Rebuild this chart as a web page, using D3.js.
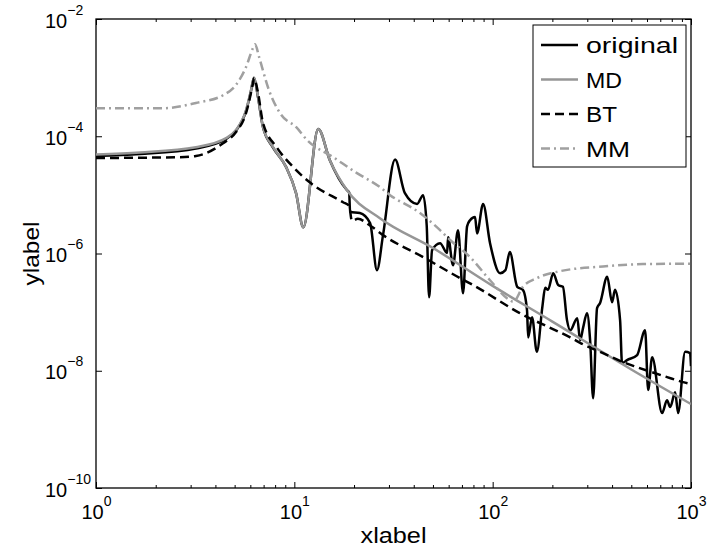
<!DOCTYPE html>
<html>
<head>
<meta charset="utf-8">
<script src="https://cdn.jsdelivr.net/npm/d3@7"></script>
<style>
  body { margin: 0; background: #fff; }
  text { font-family: "Liberation Sans", Arial, Helvetica, sans-serif; }
</style>
</head>
<body>
<svg id="chart" width="709" height="554"></svg>
<script>

// values (frequency, magnitude)
var freqOriginal = [1, 1.67, 3.19, 4.53, 5.08, 5.71, 6.05, 6.26, 6.56, 6.95,
	7.81, 9.08, 10.2, 11.1, 13.2, 15.1, 18.4, 18.9, 19.1, 21.4,
	24.1, 26.1, 28.0, 32.2, 36.1, 41.6, 44.6, 46.5, 47.8, 49.5,
	54.3, 58.9, 59.6, 63.1, 66.9, 70.9, 74.3, 76.9, 81.5, 83.4,
	89.5, 97.0, 109, 116, 122, 133, 142, 149, 151, 158,
	167, 178, 184, 190, 202, 214, 226, 237, 246, 267,
	276, 286, 299, 310, 321, 336, 348, 378, 400, 414,
	439, 449, 476, 535, 587, 608, 637, 715, 757, 785,
	832, 861, 934, 989, 1000];
var magOriginal = [4.6e-5, 5.0e-5, 6.2e-5, 9.0e-5, 1.25e-4, 2.7e-4, 6.0e-4, 1.0e-3, 4.6e-4, 1.42e-4,
	6.4e-5, 3.0e-5, 1.07e-5, 2.8e-6, 1.33e-4, 3.9e-5, 1.21e-5, 1.1e-5, 5.1e-6, 4.9e-6,
	3.3e-6, 5.2e-7, 2.06e-6, 4.0e-5, 1.07e-5, 7.0e-6, 9.9e-6, 3.0e-6, 1.8e-7, 1.14e-6,
	1.5e-6, 1.02e-6, 1.9e-6, 6.3e-7, 2.5e-6, 2.1e-7, 2.9e-6, 3.7e-6, 4.2e-6, 2.2e-6,
	7.0e-6, 1.5e-6, 4.6e-7, 5.2e-7, 1.06e-6, 2.7e-7, 2.4e-7, 1.08e-7, 3.7e-8, 8.2e-8,
	2.1e-8, 1.22e-7, 2.6e-7, 2.4e-7, 4.6e-7, 2.9e-7, 2.7e-7, 7.3e-8, 4.9e-8, 7.9e-8,
	3.3e-8, 5.5e-8, 9.6e-8, 3.3e-8, 3.4e-9, 1.17e-7, 1.43e-7, 4.0e-7, 1.48e-7, 2.4e-7,
	7.3e-8, 1.35e-8, 1.52e-8, 1.85e-8, 4.9e-8, 4.7e-9, 1.7e-8, 1.9e-9, 3.15e-9, 2.4e-9,
	4.3e-9, 1.9e-9, 2.1e-8, 2.0e-8, 1.2e-8];

var freqMD = [1, 1.67, 3.19, 4.53, 5.08, 5.71, 6.05, 6.26, 6.56, 6.95,
	7.81, 9.08, 10.2, 11.1, 13.2, 15.1, 18.4, 27.0, 50, 100,
	200, 500, 1000];
var magMD = [4.9e-5, 5.3e-5, 6.5e-5, 9.3e-5, 1.28e-4, 2.8e-4, 6.1e-4, 1.0e-3, 4.7e-4, 1.44e-4,
	6.5e-5, 3.0e-5, 1.07e-5, 2.8e-6, 1.33e-4, 3.9e-5, 1.21e-5, 4.0e-6, 1.24e-6, 2.8e-7,
	6.9e-8, 1.05e-8, 2.7e-9];

var freqBT = [1, 2.65, 3.19, 4.37, 5.08, 5.71, 6.19, 6.26, 6.56, 6.95,
	8.14, 9.85, 12.0, 17.6, 18.9, 19.5, 20.9, 24.1, 28.0, 44.6,
	68.5, 79.6, 137, 246, 276, 360, 455, 535, 757, 912,
	1000];
var magBT = [4.25e-5, 4.4e-5, 4.6e-5, 7.6e-5, 1.18e-4, 2.5e-4, 8.1e-4, 9.8e-4, 5.5e-4, 1.68e-4,
	6.5e-5, 3.0e-5, 1.62e-5, 7.5e-6, 6.5e-6, 3.6e-6, 3.9e-6, 3.0e-6, 2.06e-6, 8.7e-7,
	3.8e-7, 2.9e-7, 9.6e-8, 3.7e-8, 3.0e-8, 2.0e-8, 1.4e-8, 1.15e-8, 7.8e-9, 6.4e-9,
	5.9e-9];

var freqMM = [1, 2.18, 3.19, 4.37, 5.08, 5.71, 6.19, 6.34, 6.64, 7.45,
	8.6, 10.2, 11.6, 15.7, 20.7, 27.0, 30.4, 43.0, 54.3, 61.0,
	76.9, 97.0, 122, 127, 142, 167, 219, 360, 573, 1000];
var magMM = [3.0e-4, 3.0e-4, 3.7e-4, 5.0e-4, 7.5e-4, 1.52e-3, 3.2e-3, 3.7e-3, 2.25e-3, 6.1e-4,
	2.3e-4, 1.44e-4, 8.6e-5, 4.4e-5, 2.35e-5, 1.36e-5, 9.9e-6, 4.9e-6, 2.5e-6, 1.7e-6,
	8.7e-7, 3.5e-7, 1.6e-7, 1.5e-7, 2.7e-7, 3.8e-7, 5.0e-7, 6.0e-7, 6.6e-7, 6.7e-7];

var seriesNames = ["original", "MD", "BT", "MM"];
var xTicks = [1, 10, 100, 1000];
var yTicks = [1e-10, 1e-8, 1e-6, 1e-4, 1e-2];
var xLabelText = "xlabel";
var yLabelText = "ylabel";


var svg = d3.select("#chart");
var box = { left: 96, top: 19, right: 691, bottom: 488 };

var x = d3.scaleLog().domain([1, 1000]).range([box.left, box.right]);
var y = d3.scaleLog().domain([1e-10, 1e-2]).range([box.bottom, box.top]);

// minor ticks 2..9 in each decade
var xMinor = [];
for (var d = 0; d < xTicks.length - 1; d++) {
	for (var k = 2; k < 10; k++) xMinor.push(xTicks[d] * k);
}

function powLabel(sel) {
	sel.each(function(v) {
		var e = Math.round(Math.log10(v));
		var t = d3.select(this).text(null);
		t.append("tspan").text("10");
		t.append("tspan").attr("dy", -13).attr("font-size", 14)
			.text(e < 0 ? "\u2212" + (-e) : e);
	});
}

function styleAxis(g) {
	g.attr("font-size", 20).attr("font-family", null);
	g.select(".domain").remove();
	g.selectAll(".tick line").attr("stroke", "#000").attr("stroke-width", 1);
}

// bottom axis with labels
var gxB = svg.append("g")
	.attr("transform", "translate(0," + box.bottom + ")")
	.call(d3.axisBottom(x).tickValues(xTicks).tickSize(-6).tickFormat(""))
	.call(styleAxis);
gxB.selectAll(".tick text").attr("y", 31).attr("dy", null).attr("fill", "#000").call(powLabel);

svg.append("g")
	.attr("transform", "translate(0," + box.bottom + ")")
	.call(d3.axisBottom(x).tickValues(xMinor).tickSize(-3).tickFormat(""))
	.call(styleAxis)
	.selectAll("text").remove();

// top axis, ticks only
svg.append("g")
	.attr("transform", "translate(0," + box.top + ")")
	.call(d3.axisTop(x).tickValues(xTicks).tickSize(-6).tickFormat(""))
	.call(styleAxis)
	.selectAll("text").remove();
svg.append("g")
	.attr("transform", "translate(0," + box.top + ")")
	.call(d3.axisTop(x).tickValues(xMinor).tickSize(-3).tickFormat(""))
	.call(styleAxis)
	.selectAll("text").remove();

// left axis with labels
var gyL = svg.append("g")
	.attr("transform", "translate(" + box.left + ",0)")
	.call(d3.axisLeft(y).tickValues(yTicks).tickSize(-6).tickFormat(""))
	.call(styleAxis);
gyL.selectAll(".tick text")
	.attr("x", -51).attr("y", 8).attr("dy", null)
	.attr("text-anchor", "start").attr("fill", "#000")
	.call(powLabel);

// right axis, ticks only
svg.append("g")
	.attr("transform", "translate(" + box.right + ",0)")
	.call(d3.axisRight(y).tickValues(yTicks).tickSize(-6).tickFormat(""))
	.call(styleAxis)
	.selectAll("text").remove();

// frame
svg.append("rect")
	.attr("x", box.left).attr("y", box.top)
	.attr("width", box.right - box.left).attr("height", box.bottom - box.top)
	.attr("fill", "none").attr("stroke", "#000").attr("stroke-width", 1.3);

// curves
svg.append("clipPath").attr("id", "plotClip")
	.append("rect")
	.attr("x", box.left).attr("y", box.top)
	.attr("width", box.right - box.left).attr("height", box.bottom - box.top);

var line = d3.line()
	.x(function(p) { return x(p[0]); })
	.y(function(p) { return y(p[1]); })
	.curve(d3.curveMonotoneX);

var styles = [
	{ color: "#000", dash: null },
	{ color: "#969696", dash: null },
	{ color: "#000", dash: "9,5" },
	{ color: "#a0a0a0", dash: "9,4,2,4" }
];
var seriesData = [
	d3.zip(freqOriginal, magOriginal),
	d3.zip(freqMD, magMD),
	d3.zip(freqBT, magBT),
	d3.zip(freqMM, magMM)
];

var plot = svg.append("g").attr("clip-path", "url(#plotClip)");
seriesData.forEach(function(data, i) {
	plot.append("path")
		.attr("d", line(data))
		.attr("fill", "none")
		.attr("stroke", styles[i].color)
		.attr("stroke-width", 2.5)
		.attr("stroke-dasharray", styles[i].dash)
		.attr("stroke-linejoin", "round");
});

// axis labels (the figure's lettering runs a bit wider than Liberation Sans)
svg.append("text")
	.attr("x", (box.left + box.right) / 2).attr("y", 543)
	.attr("text-anchor", "middle").attr("font-size", 22)
	.attr("textLength", 66).attr("lengthAdjust", "spacingAndGlyphs")
	.text(xLabelText);

svg.append("text")
	.attr("transform", "translate(39," + (box.top + box.bottom) / 2 + ") rotate(-90)")
	.attr("text-anchor", "middle").attr("font-size", 22)
	.attr("textLength", 64).attr("lengthAdjust", "spacingAndGlyphs")
	.text(yLabelText);

// legend
var legendWidths = [92, 36, 31, 44];
var legend = svg.append("g");
legend.append("rect")
	.attr("x", 533).attr("y", 25).attr("width", 153).attr("height", 142)
	.attr("fill", "#fff").attr("stroke", "#000").attr("stroke-width", 1);

seriesNames.forEach(function(name, i) {
	var ly = 45 + i * 34.5;
	legend.append("line")
		.attr("x1", 541).attr("x2", 578).attr("y1", ly).attr("y2", ly)
		.attr("stroke", styles[i].color).attr("stroke-width", 2.5)
		.attr("stroke-dasharray", styles[i].dash);
	legend.append("text")
		.attr("x", 586).attr("y", ly + 8)
		.attr("font-size", 22)
		.attr("textLength", legendWidths[i]).attr("lengthAdjust", "spacingAndGlyphs")
		.text(name);
});

</script>
</body>
</html>
